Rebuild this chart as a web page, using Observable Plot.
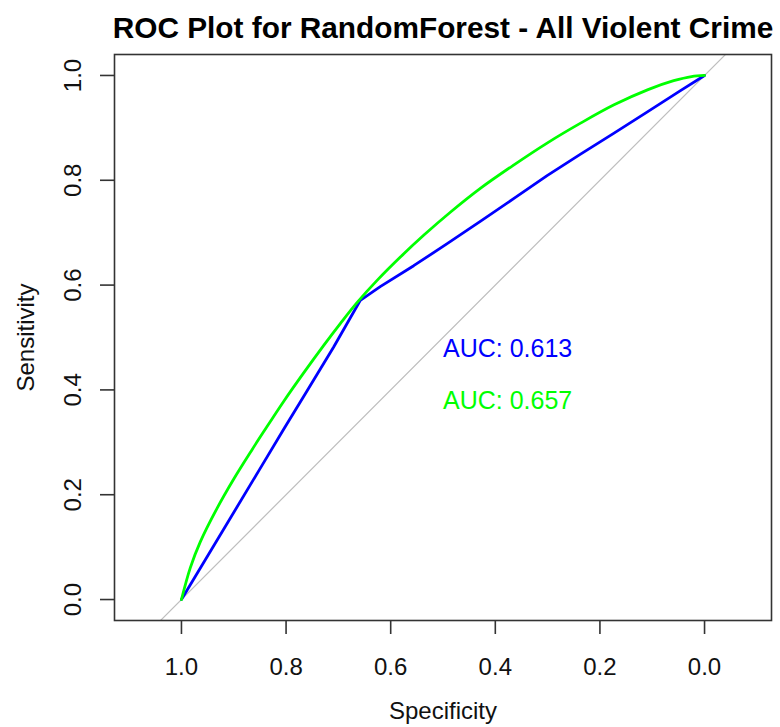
<!DOCTYPE html>
<html>
<head>
<meta charset="utf-8">
<script src="https://cdn.jsdelivr.net/npm/d3@7"></script>
<script src="https://cdn.jsdelivr.net/npm/@observablehq/plot@0.6"></script>
<style>
  html, body { margin: 0; padding: 0; background: #fff; }
  #chart svg { display: block; }
</style>
</head>
<body>
<div id="chart"></div>
<script>
// ---- data ----
const titleText = "ROC Plot for RandomForest - All Violent Crime";
const xLabel = "Specificity";
const yLabel = "Sensitivity";
const xTicks = [1.0, 0.8, 0.6, 0.4, 0.2, 0.0];
const yTicks = [0.0, 0.2, 0.4, 0.6, 0.8, 1.0];

// RandomForest (blue) ROC curve
const blueSpec = [1.000, 0.852, 0.804, 0.760, 0.709, 0.658, 0.620, 0.556, 0.492, 0.428, 0.365, 0.301, 0.237, 0.173, 0.110, 0.046, 0.000];
const blueSens = [0.000, 0.246, 0.326, 0.398, 0.482, 0.571, 0.597, 0.637, 0.679, 0.722, 0.765, 0.809, 0.850, 0.890, 0.930, 0.971, 1.000];

// second (green) ROC curve
const greenSpec = [1.000, 0.983, 0.964, 0.932, 0.900, 0.865, 0.843, 0.804, 0.766, 0.728, 0.696, 0.664, 0.626, 0.581, 0.537, 0.486, 0.428, 0.365, 0.301, 0.237, 0.173, 0.108, 0.059, 0.025, 0.000];
const greenSens = [0.000, 0.061, 0.110, 0.174, 0.230, 0.286, 0.320, 0.379, 0.433, 0.485, 0.527, 0.567, 0.609, 0.654, 0.695, 0.739, 0.785, 0.829, 0.871, 0.909, 0.944, 0.973, 0.990, 0.998, 1.000];

const aucLabels = ["AUC: 0.613", "AUC: 0.657"];

// identity (chance) line endpoints, clipped to the frame
const diagSpec = [1.2, -0.2];
const diagSens = diagSpec.map(s => 1 - s);

// ---- tables ----
const blue = blueSpec.map((s, i) => ({spec: s, sens: blueSens[i]}));
const green = greenSpec.map((s, i) => ({spec: s, sens: greenSens[i]}));
const diag = diagSpec.map((s, i) => ({spec: s, sens: diagSens[i]}));

const FONT = "'Liberation Sans', Arial, Helvetica, sans-serif";
const fmt = d3.format(".1f");

const chart = Plot.plot({
  width: 780,
  height: 727,
  marginLeft: 114,
  marginRight: 9,
  marginTop: 54,
  marginBottom: 107,
  style: {fontFamily: FONT, background: "#fff", color: "#000", overflow: "visible"},
  x: {domain: [1.128, -0.128]},
  y: {domain: [-0.04, 1.04]},
  marks: [
    Plot.line(diag, {x: "spec", y: "sens", stroke: "#bebebe", strokeWidth: 1.2, clip: true}),
    Plot.line(blue, {x: "spec", y: "sens", stroke: "#0000ff", strokeWidth: 2.8}),
    Plot.line(green, {x: "spec", y: "sens", stroke: "#00ff00", strokeWidth: 2.8, curve: "catmull-rom"}),
    Plot.text([aucLabels[0]], {text: d => d, x: () => 0.5, y: () => 0.478, textAnchor: "start", lineAnchor: "middle", fontSize: 25, fill: "#0000ff"}),
    Plot.text([aucLabels[1]], {text: d => d, x: () => 0.5, y: () => 0.378, textAnchor: "start", lineAnchor: "middle", fontSize: 25, fill: "#00ff00"}),
    Plot.frame({stroke: "#333", strokeWidth: 1.6}),
    Plot.axisX({ticks: xTicks, tickSize: 14, color: "none", stroke: "#333", strokeWidth: 1.6}),
    Plot.axisY({ticks: yTicks, tickSize: 14, color: "none", stroke: "#333", strokeWidth: 1.6}),
    Plot.text(xTicks, {x: d => d, text: d => fmt(d), frameAnchor: "bottom", dy: 54, lineAnchor: "bottom", fontSize: 24, fill: "#111"}),
    Plot.text(yTicks, {y: d => d, text: d => fmt(d), frameAnchor: "left", dx: -34, rotate: -90, textAnchor: "middle", lineAnchor: "bottom", fontSize: 24, fill: "#111"}),
    Plot.text([xLabel], {text: d => d, frameAnchor: "bottom", dy: 98, lineAnchor: "bottom", fontSize: 24, fill: "#111"}),
    Plot.text([yLabel], {text: d => d, frameAnchor: "left", dx: -81, rotate: -90, textAnchor: "middle", lineAnchor: "bottom", fontSize: 24, fill: "#111"}),
    Plot.text([titleText], {text: d => d, frameAnchor: "top", dy: -17, lineAnchor: "bottom", fontSize: 29.8, fontWeight: "bold", fill: "#000"})
  ]
});
document.getElementById("chart").appendChild(chart);
</script>
</body>
</html>
